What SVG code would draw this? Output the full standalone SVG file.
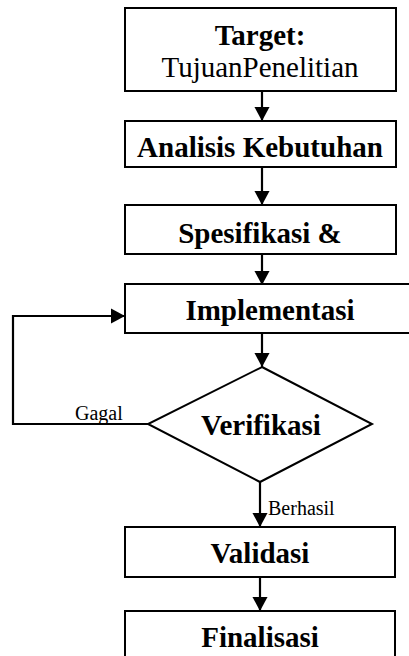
<svg xmlns="http://www.w3.org/2000/svg" width="409" height="656" viewBox="0 0 409 656">
<style>
.box{fill:#fff;stroke:#000;stroke-width:2}
.b{font-family:"Liberation Serif","Times New Roman",serif;font-weight:bold;font-size:29px;text-anchor:middle;fill:#000}
.r{font-family:"Liberation Serif","Times New Roman",serif;font-size:29px;text-anchor:middle;fill:#000}
.s{font-family:"Liberation Serif","Times New Roman",serif;font-size:20px;fill:#000}
.c{fill:none;stroke:#000;stroke-width:2.2}
</style>
<defs>
<marker id="ah" markerWidth="6.5" markerHeight="7" refX="6.5" refY="3.5" orient="auto" markerUnits="strokeWidth">
<path d="M0,0 L6.5,3.5 L0,7 Z" fill="#000"/>
</marker>
</defs>
<rect width="409" height="656" fill="#fff"/>
<g id="connectors">
<line class="c" x1="262" y1="91" x2="262" y2="121" marker-end="url(#ah)"/>
<line class="c" x1="262" y1="167" x2="262" y2="205" marker-end="url(#ah)"/>
<line class="c" x1="262" y1="254" x2="262" y2="285" marker-end="url(#ah)"/>
<line class="c" x1="262" y1="333" x2="262" y2="367" marker-end="url(#ah)"/>
<polyline class="c" points="148,424 13,424 13,316 125,316" marker-end="url(#ah)"/>
<line class="c" x1="260" y1="482" x2="260" y2="527" marker-end="url(#ah)"/>
<line class="c" x1="260" y1="577" x2="260" y2="611" marker-end="url(#ah)"/>
<text class="s" x="75" y="420">Gagal</text>
<text class="s" x="268" y="515">Berhasil</text>
</g>
<g id="target">
<rect class="box" x="125" y="8" width="271" height="83"/>
<text class="b" x="260" y="45">Target:</text>
<text class="r" x="260" y="77">TujuanPenelitian</text>
</g>
<g id="analisis">
<rect class="box" x="125" y="121" width="271" height="46"/>
<text class="b" x="260" y="157">Analisis Kebutuhan</text>
</g>
<g id="spesifikasi">
<rect class="box" x="125" y="205" width="271" height="49"/>
<text class="b" x="260" y="243">Spesifikasi &amp;</text>
</g>
<g id="implementasi">
<rect class="box" x="125" y="284" width="290" height="49"/>
<text class="b" x="270" y="320">Implementasi</text>
</g>
<g id="verifikasi">
<polygon class="box" points="262,367 372,424 260,482 148,424"/>
<text class="b" x="261" y="435">Verifikasi</text>
</g>
<g id="validasi">
<rect class="box" x="125" y="527" width="270" height="50"/>
<text class="b" x="260" y="563">Validasi</text>
</g>
<g id="finalisasi">
<rect class="box" x="125" y="611" width="270" height="60"/>
<text class="b" x="260" y="647">Finalisasi</text>
</g>
</svg>
